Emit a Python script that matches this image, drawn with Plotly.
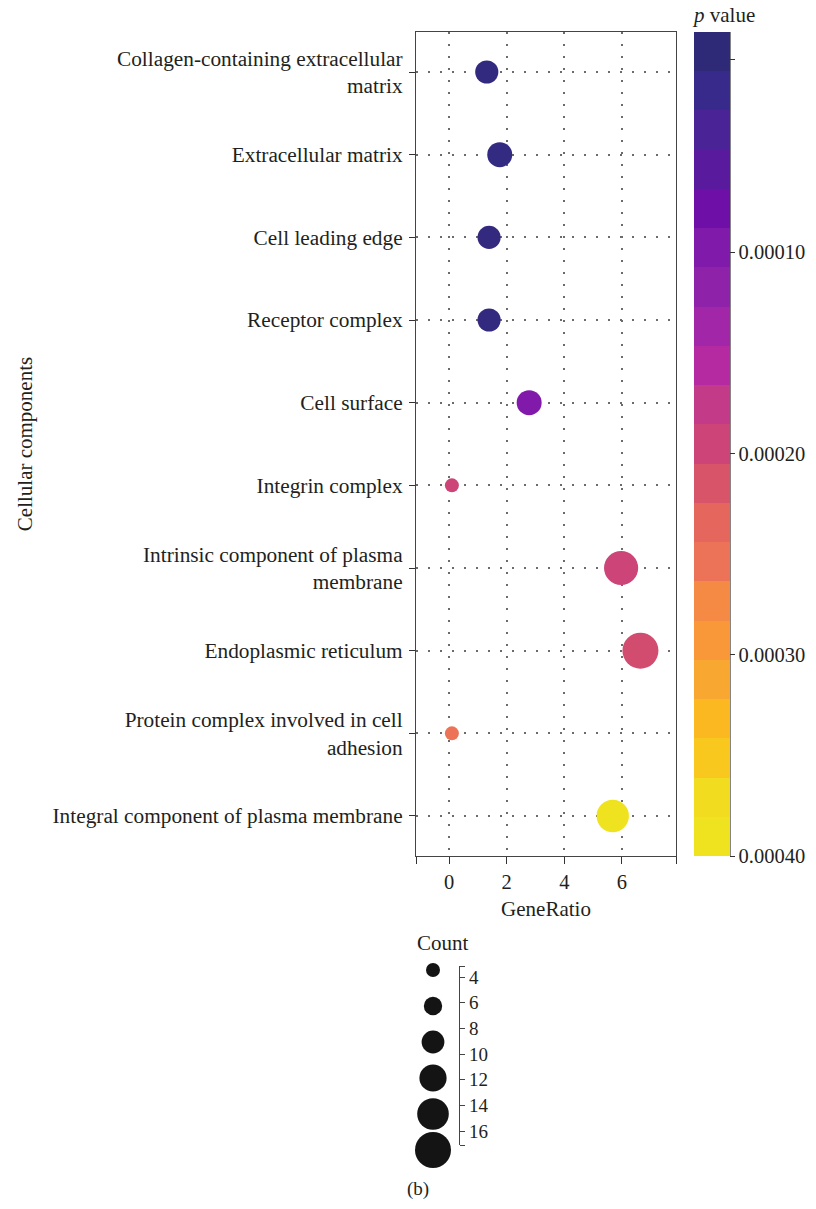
import plotly.graph_objects as go

# ---------------- data ----------------
categories = [
    "Collagen-containing extracellular<br>matrix",
    "Extracellular matrix",
    "Cell leading edge",
    "Receptor complex",
    "Cell surface",
    "Integrin complex",
    "Intrinsic component of plasma<br>membrane",
    "Endoplasmic reticulum",
    "Protein complex involved in cell<br>adhesion",
    "Integral component of plasma membrane",
]
gene_ratio = [1.31, 1.76, 1.39, 1.39, 2.78, 0.10, 5.97, 6.64, 0.10, 5.68]
counts = [9, 10, 9, 9, 10, 4, 15, 16, 4, 14]
p_values = [0.0000085, 0.000011, 0.0000095, 0.0000095, 0.000099,
            0.000195, 0.000195, 0.000205, 0.000255, 0.00039]

x_ticks = [0, 2, 4, 6]
cbar_ticks = [0.0000046, 0.0001, 0.0002, 0.0003, 0.0004]
cbar_labels = ["", "0.00010", "0.00020", "0.00030", "0.00040"]
legend_counts = [4, 6.4, 8.8, 11.2, 13.6, 16]
legend_ticks = [4, 6, 8, 10, 12, 14, 16]

# ---------------- style ----------------
W, H = 816, 1209
FONT = "Liberation Serif"
TXT = "#231f20"
TICK_SIZE = 20.5
YTICK_SIZE = 21.3
TITLE_SIZE = 21
band_colors = ["#2e2a78", "#382a8a", "#4a2496", "#5a1a9e", "#6e10a8", "#801aaa",
               "#8e22a8", "#a226a8", "#b52aa0", "#c23a88", "#cc4478", "#d85468",
               "#e4665c", "#ec7258", "#f58a44", "#f89838", "#f8a830", "#fbb820",
               "#f9c81e", "#f2dc20", "#eee31e"]  # top -> bottom
bottom_up = band_colors[::-1]
nb = len(bottom_up)
disc_scale = []
for k, c in enumerate(bottom_up):
    disc_scale.append([k / nb, c])
    disc_scale.append([(k + 1) / nb, c])
cont_scale = [[0.0, bottom_up[0]]]
for k, c in enumerate(bottom_up):
    cont_scale.append([(k + 0.5) / nb, c])
cont_scale.append([1.0, bottom_up[-1]])

CMIN, CMAX = -0.0004, 0.0000093
X_RANGE = [-1.145, 7.874]
LEG_RANGE = [17.091, 3.143]


def px_x(v):
    return v / W


def px_y(v):
    return 1 - v / H


def count_to_px(c):
    return 14 + (c - 4) * 1.833


fig = go.Figure()

fig.add_trace(go.Scatter(
    x=gene_ratio, y=categories, mode="markers",
    marker=dict(size=[count_to_px(c) for c in counts],
                color=[-p for p in p_values], cmin=CMIN, cmax=CMAX,
                colorscale=cont_scale, showscale=False, line=dict(width=0),
                opacity=1),
    showlegend=False, hoverinfo="skip"))

# colorbar carrier
fig.add_trace(go.Scatter(
    x=[None], y=[None], mode="markers",
    marker=dict(color=[-p_values[0]], cmin=CMIN, cmax=CMAX, colorscale=disc_scale,
                showscale=True,
                colorbar=dict(
                    x=px_x(694), xanchor="left", xpad=0, ypad=0,
                    y=px_y(856), yanchor="bottom", len=(856 - 3) / H,
                    lenmode="fraction",
                    thickness=36, outlinewidth=0,
                    tickvals=[-t for t in cbar_ticks], ticktext=cbar_labels,
                    ticks="outside", ticklen=5, tickcolor="#333", tickwidth=1,
                    tickfont=dict(family=FONT, size=TICK_SIZE, color=TXT),
                    title=dict(text="<i>p</i> value", side="top",
                               font=dict(family=FONT, size=TITLE_SIZE, color=TXT)))),
    showlegend=False, hoverinfo="skip"))

# size legend circles
fig.add_trace(go.Scatter(
    x=[0.5] * len(legend_counts), y=legend_counts, mode="markers",
    xaxis="x2", yaxis="y2", cliponaxis=False,
    marker=dict(size=[count_to_px(c) for c in legend_counts], color="#141414",
                line=dict(width=0), opacity=1),
    showlegend=False, hoverinfo="skip"))
fig.add_trace(go.Scatter(x=[0.5], y=[10], xaxis="x3", yaxis="y3", mode="markers",
                         marker=dict(opacity=0), showlegend=False, hoverinfo="skip"))

dash = "1.5px,10.5px"
fig.update_layout(
    width=W, height=H, margin=dict(l=0, r=0, t=0, b=0),
    paper_bgcolor="white", plot_bgcolor="rgba(0,0,0,0)",
    font=dict(family=FONT, color=TXT),
    xaxis=dict(domain=[px_x(416), px_x(676)], range=X_RANGE,
               tickvals=X_RANGE[:1] + x_ticks + X_RANGE[1:],
               ticktext=[""] + [str(t) for t in x_ticks] + [""],
               ticks="outside", ticklen=7, tickcolor="#333",
               tickfont=dict(family=FONT, size=TICK_SIZE, color=TXT),
               showline=True, linecolor="#444", linewidth=1.2, mirror=True,
               showgrid=True, gridcolor="#6b6b6b", gridwidth=1.5, griddash=dash,
               zeroline=False,
               title=dict(text="GeneRatio", standoff=9,
                          font=dict(family=FONT, size=TITLE_SIZE, color=TXT))),
    yaxis=dict(domain=[px_y(856), px_y(32)], type="category",
               categoryorder="array", categoryarray=categories,
               range=[9.484, -0.484],
               ticks="outside", ticklen=6, tickcolor="#333",
               ticklabelstandoff=2,
               tickfont=dict(family=FONT, size=YTICK_SIZE, color=TXT),
               showline=True, linecolor="#444", linewidth=1.2, mirror=True,
               showgrid=True, gridcolor="#6b6b6b", gridwidth=1.5, griddash=dash,
               zeroline=False, automargin=False,
               title=dict(text="Cellular components", standoff=14,
                          font=dict(family=FONT, size=TITLE_SIZE, color=TXT))),
    xaxis2=dict(domain=[px_x(407), px_x(459)], range=[0, 1], anchor="y2",
                visible=False),
    yaxis2=dict(domain=[px_y(1165), px_y(955)], range=[17, 3], anchor="x2",
                visible=False),
    xaxis3=dict(domain=[px_x(440), px_x(459)], range=[0, 1], anchor="y3",
                visible=False),
    yaxis3=dict(domain=[px_y(1145), px_y(966)], range=LEG_RANGE, anchor="x3",
                side="right", showline=True, linecolor="#444", linewidth=1.2,
                ticks="outside", ticklen=5, tickcolor="#444",
                tickvals=LEG_RANGE[1:] + legend_ticks + LEG_RANGE[:1],
                ticktext=[""] + [str(t) for t in legend_ticks] + [""],
                tickfont=dict(family=FONT, size=19, color=TXT),
                showgrid=False, zeroline=False),
    shapes=[dict(type="line", xref="paper", yref="paper",
                 x0=px_x(730), x1=px_x(730), y0=px_y(856), y1=px_y(32),
                 line=dict(color="#333", width=1.2))],
    annotations=[
        dict(text="Count", x=px_x(443), y=px_y(943), xref="paper", yref="paper",
             showarrow=False, xanchor="center", yanchor="middle",
             font=dict(family=FONT, size=TITLE_SIZE, color=TXT)),
        dict(text="(b)", x=px_x(418), y=px_y(1189), xref="paper", yref="paper",
             showarrow=False, xanchor="center", yanchor="middle",
             font=dict(family=FONT, size=19, color=TXT)),
    ],
)

fig.write_html("out.html", config={"displayModeBar": False},
               post_script="document.body.style.margin='0px';")
